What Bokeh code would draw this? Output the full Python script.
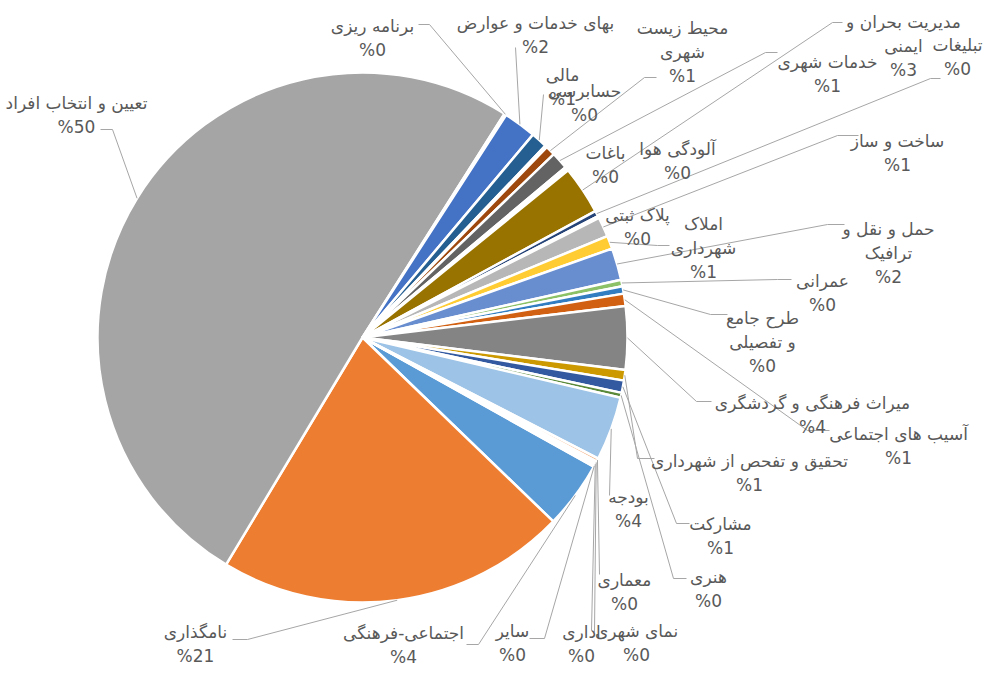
import math
from bokeh.plotting import figure
from bokeh.models import Range1d, ColumnDataSource
from bokeh.core.properties import value
from bokeh.embed import file_html
from bokeh.resources import INLINE

# ---------------- data (clockwise, series order) ----------------
categories = [
    "اجتماعی-فرهنگی", "نامگذاری", "تعیین و انتخاب افراد", "برنامه ریزی",
    "بهای خدمات و عوارض", "مالی", "حسابرسی", "محیط زیست شهری", "خدمات شهری",
    "باغات", "آلودگی هوا", "مدیریت بحران و ایمنی", "تبلیغات", "پلاک ثبتی",
    "ساخت و ساز", "املاک شهرداری", "حمل و نقل و ترافیک", "عمرانی",
    "طرح جامع و تفصیلی", "آسیب های اجتماعی", "میراث فرهنگی و گردشگری",
    "تحقیق و تفحص از شهرداری", "مشارکت", "هنری", "بودجه", "معماری",
    "نمای شهری", "اداری", "سایر",
]
values = [4.1, 21.4, 50.4, 0.12, 2.0, 1.0, 0.12, 0.6, 1.05, 0.12, 0.12, 2.95,
          0.35, 0.12, 1.2, 0.8, 1.95, 0.4, 0.45, 0.75, 3.85, 0.65, 0.75, 0.3,
          3.9, 0.2, 0.12, 0.12, 0.12]
pct_labels = ["4", "21", "50", "0", "2", "1", "0", "1", "1", "0", "0", "3",
              "0", "0", "1", "1", "2", "0", "0", "1", "4", "1", "1", "0",
              "4", "0", "0", "0", "0"]
colors = ["#5B9BD5", "#ED7D31", "#A5A5A5", "#FFC000", "#4472C4", "#255E91",
          "#70AD47", "#9E480E", "#636363", "#43682B", "#7CAFDD", "#997300",
          "#264478", "#F1975A", "#B7B7B7", "#FFCD33", "#698ED0", "#8CC168",
          "#327DC2", "#D26012", "#848484", "#CC9A00", "#335AA1", "#5A8A39",
          "#9DC3E6", "#F4B183", "#C9C9C9", "#FFD966", "#8FAADC"]

# ---------------- layout (screen pixels of the page) ----------------
PAGE_H = 681
CX, CY, R = 370, 345, 265
FIRST_ANGLE = 119.2  # degrees clockwise from 12 o'clock
TEXT_DY = 6          # visual offset of text blocks
wrap = {7: "محیط زیست\nشهری", 11: "مدیریت بحران و\nایمنی", 15: "املاک\nشهرداری",
        16: "حمل و نقل و\nترافیک", 18: "طرح جامع\nو تفصیلی"}
label_pos = {
    0: (411, 652), 1: (203, 651), 2: (84, 116), 3: (380, 39), 4: (543, 36),
    5: (570, 88), 6: (592, 104), 7: (690, 53), 8: (835, 75), 9: (613, 166),
    10: (685, 162), 11: (911, 47), 12: (965, 58), 13: (645, 228), 14: (905, 154),
    15: (711, 249), 16: (896, 254), 17: (830, 294), 18: (770, 343), 19: (906, 447),
    20: (820, 416), 21: (757, 474), 22: (728, 537), 23: (716, 590), 24: (636, 510),
    25: (632, 593), 26: (644, 650), 27: (589, 651), 28: (520, 650),
}
leads = {
    0: [(474, 652), (486, 652)], 1: [(240, 647), (255, 647)],
    2: [(108, 137), (120, 137)], 3: [(426, 32), (437, 32)],
    4: [(523, 55)], 5: [(551, 102)], 7: [(664, 85), (652, 85)],
    8: [(785, 60), (773, 60)], 11: [(850, 30), (840, 30)],
    12: [(948, 86), (938, 86)], 14: [(866, 143), (845, 143)],
    15: [(677, 253), (665, 253)], 16: [(852, 232), (835, 232)],
    17: [(799, 287), (785, 287)], 18: [(735, 322), (718, 322)],
    19: [(837, 438), (815, 438)], 20: [(719, 409), (704, 409)],
    21: [(662, 466), (645, 466)], 22: [(697, 531), (684, 531)],
    23: [(694, 586), (681, 586)], 24: [(617, 503)], 25: [(607, 582)],
    26: [(602, 640)], 27: [(599, 638)], 28: [(537, 646), (552, 646)],
}


def fy(Y):
    return PAGE_H - Y


W, H = 988, 665
p = figure(width=W, height=H, x_range=Range1d(8, 8 + W), y_range=Range1d(8, 8 + H),
           output_backend="svg", toolbar_location=None, x_axis_type=None,
           y_axis_type=None, min_border=0)
p.outline_line_color = None
p.grid.visible = False
p.background_fill_color = "white"
p.border_fill_color = "white"

total = sum(values)
n = len(values)
ts, te = [], []
acc = FIRST_ANGLE
for v in values:
    d = v / total * 360.0
    ts.append(acc)
    te.append(acc + d)
    acc += d

src = ColumnDataSource(dict(
    x=[CX] * n, y=[fy(CY)] * n,
    start=[math.radians(90 - e) for e in te],
    end=[math.radians(90 - s) for s in ts],
    color=colors, name=categories, val=values,
))
p.wedge(x="x", y="y", radius=R, start_angle="start", end_angle="end",
        fill_color="color", line_color="white", line_width=2.5, source=src)

# leader lines
xs, ys = [], []
for i, pts in leads.items():
    mid = math.radians((ts[i] + te[i]) / 2)
    rx = CX + R * math.sin(mid)
    ry = fy(CY) + R * math.cos(mid)
    xs.append([pt[0] for pt in pts] + [rx])
    ys.append([fy(pt[1]) for pt in pts] + [ry])
p.multi_line(xs, ys, line_color="#A6A6A6", line_width=1)

# labels
bottom_row = {0, 1, 26, 27, 28}
lx, ly, lt = [], [], []
for i in range(n):
    x, y = label_pos[i]
    if i not in bottom_row:
        y += TEXT_DY
    name = wrap.get(i, categories[i])
    lx.append(x)
    ly.append(fy(y))
    lt.append(name + "\n%" + pct_labels[i])
p.text(lx, ly, text=lt, text_font=value("DejaVu Sans"), text_font_size="17px",
       text_color="#595959", text_align="center", text_baseline="middle",
       text_line_height=1.2)

open("out.html", "w").write(file_html(p, INLINE))
